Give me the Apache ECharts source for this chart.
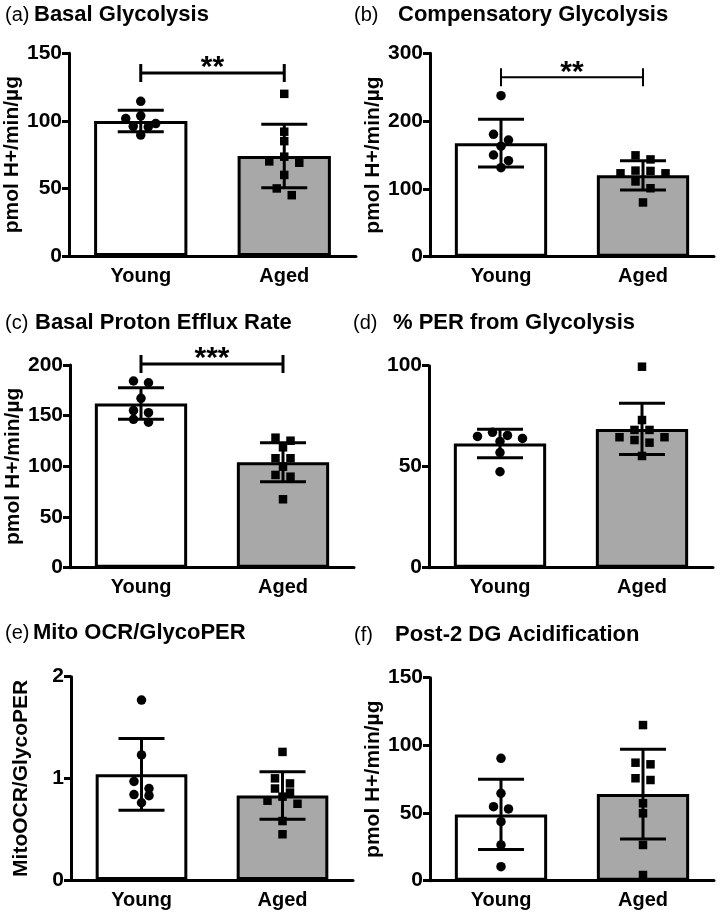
<!DOCTYPE html>
<html><head><meta charset="utf-8">
<script src="https://cdn.jsdelivr.net/npm/echarts/dist/echarts.min.js"></script>
<style>html,body{margin:0;padding:0;background:#fff}#c{width:720px;height:924px}</style>
</head><body><div id="c"></div>
<script>
// ---------- DATA ----------
const categories = ['Young', 'Aged'];
const panelTags = ['(a)', '(b)', '(c)', '(d)', '(e)', '(f)'];
const panelTitles = ['Basal Glycolysis', 'Compensatory Glycolysis', 'Basal Proton Efflux Rate',
  '% PER from Glycolysis', 'Mito OCR/GlycoPER', 'Post-2 DG Acidification'];
const yAxisNames = ['pmol H+/min/µg', 'pmol H+/min/µg', 'pmol H+/min/µg', '', 'MitoOCR/GlycoPER', 'pmol H+/min/µg'];
const yMax = [150, 300, 200, 100, 2, 150];
const yInterval = [50, 100, 50, 50, 1, 50];

const meanYoung = [99.9, 167.5, 162, 61.5, 1.04, 49];
const sdYoung = [8, 35.2, 15.6, 7.1, 0.353, 26];
const meanAged = [74, 120, 104, 68.7, 0.831, 64];
const sdAged = [23.5, 21.6, 19.2, 12.65, 0.234, 33.2];

const sigLabels = ['**', '**', '***', '', '', ''];
const sigHeights = [135.4, 264.6, 201, null, null, null];

const basalGlycolysisYoung = [114.5, 103.7, 101.7, 98, 96, 95.5, 89.5];
const basalGlycolysisAged = [120, 92, 85, 73.5, 70, 69, 60, 50, 45];
const compGlycolysisYoung = [237.5, 180.5, 172, 163, 150, 141.6, 131.3];
const compGlycolysisAged = [149.5, 143.5, 127, 126.5, 123, 123, 111, 101, 80];
const basalPERYoung = [184.2, 182.5, 167.1, 155, 153, 146.4, 143.5];
const basalPERAged = [128.3, 125.3, 118.8, 108, 108, 99.7, 91.5, 89.8, 67.5];
const pctPERYoung = [67, 65.5, 65, 64, 62.5, 57, 47.5];
const pctPERAged = [99.5, 73.1, 68.2, 68.2, 64.6, 64.6, 63.2, 61.9, 55.3];
const mitoRatioYoung = [1.77, 1.23, 0.97, 0.90, 0.84, 0.83, 0.76];
const mitoRatioAged = [1.26, 1.0, 0.95, 0.9, 0.86, 0.82, 0.78, 0.75, 0.58, 0.45];
const post2DGYoung = [90.4, 64.6, 54.7, 53, 43.6, 26.4, 10.4];
const post2DGAged = [115, 87.2, 86, 75.7, 74.4, 57.2, 49.8, 26.4, 4.2];

const youngPoints = [basalGlycolysisYoung, compGlycolysisYoung, basalPERYoung, pctPERYoung, mitoRatioYoung, post2DGYoung];
const agedPoints = [basalGlycolysisAged, compGlycolysisAged, basalPERAged, pctPERAged, mitoRatioAged, post2DGAged];

// ---------- LAYOUT / STYLE ----------
const FONT = '"Liberation Sans", Arial, sans-serif';
const grids = [
  { left: 69, top: 53.3, width: 287, height: 202.7 },
  { left: 430, top: 53.3, width: 284, height: 203.4 },
  { left: 70, top: 365, width: 284, height: 202.7 },
  { left: 429, top: 365.7, width: 284, height: 202 },
  { left: 71, top: 676.7, width: 282, height: 203.3 },
  { left: 430, top: 677.7, width: 284, height: 203 }
];
const tagPos = [[5, 4], [354, 4], [5, 312], [353, 312], [5, 622], [354, 624]];
const titleX = [34, 398, 35, 393, 33, 395];
const bracketWidth = [3, 2, 3, 3, 3, 3];
const AGED_COLOR = '#a8a8a8';

// beeswarm-like horizontal spreading (pixel offsets) computed from values
function swarm(values, pxPerUnit, rowPx, step) {
  const idx = values.map((v, i) => i).sort((a, b) => values[b] - values[a]);
  const off = new Array(values.length).fill(0);
  let row = [], anchor = null;
  const flush = () => {
    const n = row.length; const offs = [];
    for (let k = 0; k < n; k++) offs.push((k - (n - 1) / 2) * step);
    offs.sort((a, b) => Math.abs(a) - Math.abs(b) || a - b);
    row.forEach((i, k) => { off[i] = offs[k]; });
    row = [];
  };
  idx.forEach(i => {
    if (anchor === null || (anchor - values[i]) * pxPerUnit >= rowPx) { flush(); anchor = values[i]; }
    row.push(i);
  });
  flush();
  return off;
}

const title = [], xAxis = [], yAxis = [], series = [];
for (let p = 0; p < 6; p++) {
  title.push({ text: panelTags[p], left: tagPos[p][0], top: tagPos[p][1] + 1, padding: 0,
    textStyle: { fontFamily: FONT, fontSize: 20, fontWeight: 'normal', color: '#000' } });
  title.push({ text: panelTitles[p], left: titleX[p], top: tagPos[p][1], padding: 0,
    textStyle: { fontFamily: FONT, fontSize: 22, fontWeight: 'bold', color: '#000' } });

  xAxis.push({ type: 'category', gridIndex: p, data: categories,
    axisLine: { lineStyle: { color: '#000', width: 3 } },
    axisTick: { alignWithLabel: true, length: 7, lineStyle: { color: '#000', width: 3 } },
    axisLabel: { color: '#000', fontFamily: FONT, fontSize: 20, fontWeight: 'bold', margin: 10 } });
  yAxis.push({ type: 'value', gridIndex: p, min: 0, max: yMax[p], interval: yInterval[p],
    name: yAxisNames[p], nameLocation: 'middle', nameGap: 39,
    nameTextStyle: { color: '#000', fontFamily: FONT, fontSize: 21, fontWeight: 'bold' },
    axisLine: { show: true, lineStyle: { color: '#000', width: 3 } },
    axisTick: { show: true, length: 7, lineStyle: { color: '#000', width: 3 } },
    splitLine: { show: false },
    axisLabel: { color: '#000', fontFamily: FONT, fontSize: 21, fontWeight: 'bold', margin: 7 } });

  series.push({ type: 'bar', xAxisIndex: p, yAxisIndex: p, barWidth: '65%', z: 2,
    itemStyle: { borderColor: '#000', borderWidth: 3 },
    data: [{ value: meanYoung[p], itemStyle: { color: '#fff' } },
           { value: meanAged[p], itemStyle: { color: AGED_COLOR } }] });

  const pxPerUnit = grids[p].height / yMax[p];
  const offY = swarm(youngPoints[p], pxPerUnit, 8, 15);
  const offA = swarm(agedPoints[p], pxPerUnit, 8, 15);
  series.push({ type: 'scatter', xAxisIndex: p, yAxisIndex: p, symbol: 'circle', symbolSize: 9.5, z: 3,
    itemStyle: { color: '#000', opacity: 1 },
    data: youngPoints[p].map((v, i) => ({ value: [0, v], symbolOffset: [offY[i], 0] })) });
  series.push({ type: 'scatter', xAxisIndex: p, yAxisIndex: p, symbol: 'rect', symbolSize: 8.5, z: 3,
    itemStyle: { color: '#000', opacity: 1 },
    data: agedPoints[p].map((v, i) => ({ value: [1, v], symbolOffset: [offA[i], 0] })) });

  series.push({ type: 'custom', xAxisIndex: p, yAxisIndex: p, z: 4, clip: false,
    data: [[0, meanYoung[p], sdYoung[p]], [1, meanAged[p], sdAged[p]]],
    renderItem: (params, api) => {
      const c = api.value(0), m = api.value(1), s = api.value(2);
      const t = api.coord([c, m + s]), b = api.coord([c, m - s]);
      const hw = 23, st = { stroke: '#000', lineWidth: 3 };
      return { type: 'group', children: [
        { type: 'line', shape: { x1: t[0], y1: t[1], x2: b[0], y2: b[1] }, style: st },
        { type: 'line', shape: { x1: t[0] - hw, y1: t[1], x2: t[0] + hw, y2: t[1] }, style: st },
        { type: 'line', shape: { x1: b[0] - hw, y1: b[1], x2: b[0] + hw, y2: b[1] }, style: st }
      ] };
    } });

  if (sigHeights[p] !== null) {
    const label = sigLabels[p], lw = bracketWidth[p];
    series.push({ type: 'custom', xAxisIndex: p, yAxisIndex: p, z: 5, clip: false,
      data: [[sigHeights[p]]],
      renderItem: (params, api) => {
        const y = api.value(0);
        const a = api.coord([0, y]), b = api.coord([1, y]);
        const st = { stroke: '#000', lineWidth: lw };
        return { type: 'group', children: [
          { type: 'line', shape: { x1: a[0], y1: a[1], x2: b[0], y2: b[1] }, style: st },
          { type: 'line', shape: { x1: a[0], y1: a[1] - 9, x2: a[0], y2: a[1] + 9 }, style: st },
          { type: 'line', shape: { x1: b[0], y1: b[1] - 9, x2: b[0], y2: b[1] + 9 }, style: st },
          { type: 'text', style: { text: label, x: (a[0] + b[0]) / 2, y: a[1] - 5,
            textAlign: 'center', textVerticalAlign: 'middle',
            font: 'bold 30px ' + FONT, fill: '#000' } }
        ] };
      } });
  }
}

const chart = echarts.init(document.getElementById('c'), null, { renderer: 'canvas' });
chart.setOption({ animation: false, backgroundColor: '#fff', title, grid: grids, xAxis, yAxis, series });
</script></body></html>
